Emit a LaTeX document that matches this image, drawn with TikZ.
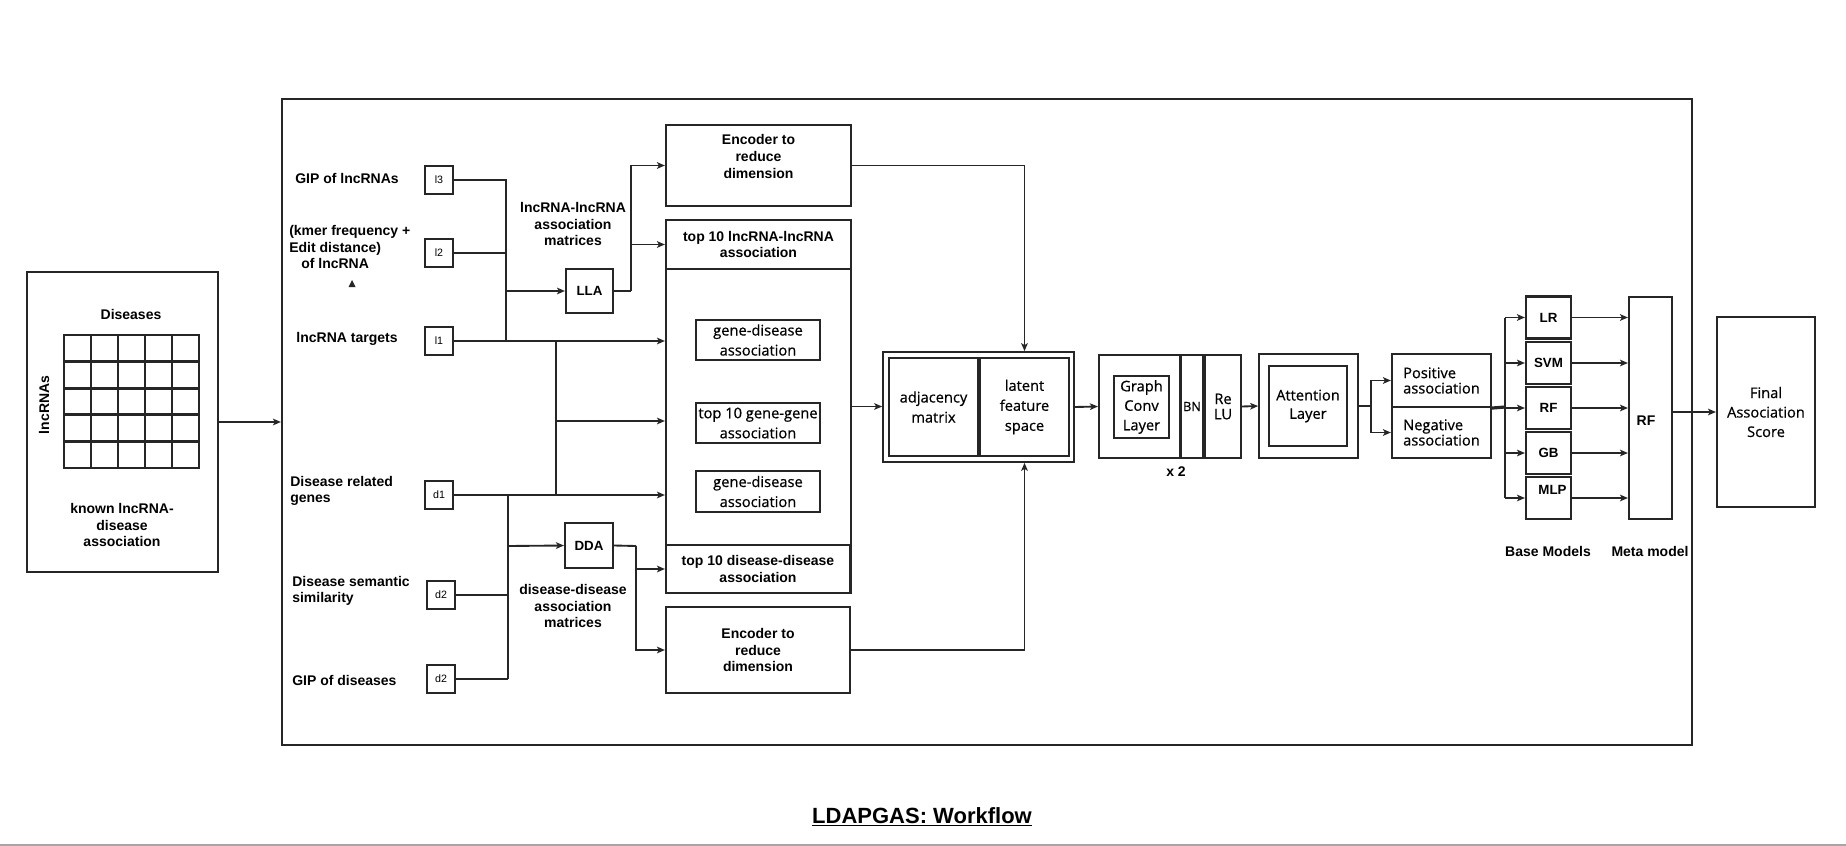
\documentclass[tikz,border=0pt]{standalone}
\usepackage{fontspec}
\setmainfont{Liberation Sans}
\newfontfamily\osans[FakeBold=0.6]{Open Sans}
\usetikzlibrary{arrows.meta}
\definecolor{ink}{HTML}{262626}
\tikzset{
  sz/.style 2 args={minimum width=#1*0.75pt, minimum height=#2*0.75pt},
  box/.style={draw=ink, line width=1.6pt, inner sep=0pt, align=center, font=\bfseries\fontsize{10.5}{12.4}\selectfont},
  obox/.style={box, font=\osans\fontsize{11}{15}\selectfont},
  sbox/.style={box, sz={28}{28}, line width=1.5pt, font=\fontsize{8}{9}\selectfont},
  lbl/.style={inner sep=0pt, align=center, font=\bfseries\fontsize{10.5}{12.4}\selectfont},
  conn/.style={draw=ink, line width=1.4pt},
  arr/.style={conn, -{Stealth[length=6pt,width=5pt,inset=1.5pt]}},
}
\begin{document}
\begin{tikzpicture}[x=0.75pt,y=0.75pt,yscale=-1]
\useasboundingbox (0,0) rectangle (1846,846);
%Shape: Rectangle [known associations]
\node[box,sz={191}{300}] (known) at (122.5,422) {};
\draw[ink,line width=2.2pt] (64,335) rectangle (199,468);
\foreach \i in {1,...,4} \draw[ink,line width=2pt] (64+27*\i,335) -- (64+27*\i,468);
\foreach \j in {1,...,4} \draw[ink,line width=2pt] (64,335+26.6*\j) -- (199,335+26.6*\j);
% Text Node
\node[lbl] (dis) at (131,314) {Diseases};
\node[lbl,rotate=90] (lnc) at (44,405) {lncRNAs};
\node[lbl] (knowntxt) at (122,525) {known lncRNA-\\disease\\association};
%Shape: Rectangle [main frame]
\node[box,sz={1410}{646}] (main) at (987,422) {};
\draw[arr] (known.east) -- (main.west);
% Text Node
\node[lbl] (gipl) at (347,178) {GIP of lncRNAs};
\node[lbl,align=left,anchor=west] (kmer) at (289,247) {(kmer frequency +\\Edit distance)\\\hspace*{9pt}of lncRNA};
\fill[ink] (348.5,287) -- (355.5,287) -- (352,280) -- cycle;
\node[lbl] (tgt) at (347,339) {lncRNA targets};
\node[lbl,align=left,anchor=west] (drg) at (290,491) {Disease related\\genes};
\node[lbl,align=left,anchor=west] (dss) at (292,591) {Disease semantic\\similarity};
\node[lbl,anchor=west] (gipd) at (292,680) {GIP of diseases};
\node[lbl] (llm) at (573,224) {lncRNA-lncRNA\\association\\matrices};
\node[lbl] (ddm) at (573,606) {disease-disease\\association\\matrices};
%Shape: Rectangle [inputs]
\node[sbox] (l3) at (439,180) {l3};
\node[sbox] (l2) at (439,253) {l2};
\node[sbox] (l1) at (439,341) {l1};
\node[sbox] (d1) at (439,495) {d1};
\node[sbox] (d2a) at (441,595) {d2};
\node[sbox] (d2b) at (441,679) {d2};
\node[box,sz={47}{44},font=\bfseries\fontsize{10}{12}\selectfont] (lla) at (589.5,291) {LLA};
\node[box,sz={48}{45},font=\bfseries\fontsize{10}{12}\selectfont] (dda) at (589,545.5) {DDA};
%Shape: Rectangle [matrices column]
\node[box,sz={185}{81}] (enc1) at (758.5,165.5) {};
\node[lbl] (enc1txt) at (758.5,156.5) {Encoder to\\reduce\\dimension};
\node[box,sz={185}{373}] (col) at (758.5,406.5) {};
\node[box,sz={185}{49}] (llt) at (758.5,244.5) {top 10 lncRNA-lncRNA\\association};
\node[obox,sz={124}{40}] (gd1) at (758,340) {gene-disease\\association};
\node[obox,sz={124}{40}] (gg) at (758,423) {top 10 gene-gene\\association};
\node[obox,sz={124}{41}] (gd2) at (758,491.5) {gene-disease\\association};
\node[box,sz={184}{48}] (ddt) at (758,569) {top 10 disease-disease\\association};
\node[box,sz={184}{86}] (enc2) at (758,650) {Encoder to\\reduce\\dimension};
%Shape: Rectangle [graph]
\node[box,sz={191}{110},line width=1.3pt] (graph) at (978.5,407) {};
\node[obox,sz={89}{98},line width=1.9pt] (adj) at (933.5,407) {adjacency\\matrix};
\node[obox,sz={89}{98},line width=1.9pt] (lat) at (1024.5,407) {latent\\feature\\space};
%Shape: Rectangle [gcn block]
\node[box,sz={81}{103}] (gcn) at (1139.5,406.5) {};
\node[obox,sz={55}{62},font=\osans\fontsize{11}{14.6}\selectfont] (gconv) at (1141.5,407) {Graph\\Conv\\Layer};
\node[obox,sz={22}{103},font=\osans\fontsize{9.5}{11}\selectfont] (bn) at (1192,406.5) {BN};
\node[obox,sz={36}{103},font=\osans\fontsize{11}{11.5}\selectfont] (relu) at (1223,406.5) {Re\\LU};
\node[lbl] (x2) at (1176,472) {x 2};
%Shape: Rectangle [attention]
\node[box,sz={99}{104},line width=1.3pt] (attn) at (1308.5,406) {};
\node[obox,sz={78}{80},font=\osans\fontsize{11}{13.8}\selectfont] (attin) at (1308,406) {Attention\\Layer};
\node[obox,sz={99}{53},align=left,font=\osans\fontsize{11}{11.5}\selectfont] (pos) at (1441.5,380.5) {Positive\\association};
\node[obox,sz={99}{51},align=left,font=\osans\fontsize{11}{11.5}\selectfont] (neg) at (1441.5,432.5) {Negative\\association};
%Shape: Rectangle [models]
\foreach \nm/\txt/\yy in {lr/LR/317.5,svm/SVM/363,rf/RF/408,gb/GB/453}
  \node[box,sz={45}{42},font=\bfseries\fontsize{10}{12}\selectfont] (\nm) at (1548.5,\yy) {\txt};
\node[box,sz={45}{42},label={[lbl,font=\bfseries\fontsize{10}{12}\selectfont,xshift=3pt,yshift=6pt]center:MLP}] (mlp) at (1548.5,498) {};
\node[box,sz={43}{222}] (meta) at (1650.5,408) {};
\node[lbl] (metatxt) at (1646,421) {RF};
\node[obox,sz={98}{190},font=\osans\fontsize{11}{14.6}\selectfont] (final) at (1766,412) {Final\\Association\\Score};
\node[lbl] (basel) at (1548,551) {Base Models};
\node[lbl] (metal) at (1650,551) {Meta model};
% Connectors: lncRNA side
\coordinate (lbus) at (506,291);
\draw[conn] (l3.east) -| (lbus);
\draw[conn] (l2.east) -- (l2.east -| lbus);
\draw[conn] (l1.east) -| (lbus);
\draw[arr] (lbus) -- (lla.west);
\draw[arr] (l1.east) -- (l1.east -| col.west);
\coordinate (gbus) at (556,421);
\draw[conn] (l1.east -| gbus) -- (d1.east -| gbus);
\draw[arr] (gbus) -- (gbus -| col.west);
\coordinate (lout) at (631,291);
\draw[conn] (lla.east) -- (lout);
\draw[arr] (lout) |- (enc1.west);
\draw[arr] (lout |- llt.west) -- (llt.west);
% Connectors: disease side
\draw[arr] (d1.east) -- (d1.east -| col.west);
\coordinate (dbus) at (508,546);
\draw[conn] (d1.east -| dbus) -- (d2b.east -| dbus);
\draw[conn] (d2a.east) -- (d2a.east -| dbus);
\draw[conn] (d2b.east) -- (d2b.east -| dbus);
\draw[arr] (dbus) -- (dda.west);
\coordinate (dout) at (636,546);
\draw[conn] (dda.east) -- (dout);
\draw[arr] (dout) |- (enc2.west);
\draw[arr] (dout |- ddt.west) -- (ddt.west);
% Connectors: model
\draw[arr] (col.east) -- (col.east -| graph.west);
\draw[arr] (enc1.east) -| (lat.north |- graph.north);
\draw[arr] (enc2.east) -| (lat.south |- graph.south);
\draw[arr] (graph.east) -- (gcn.west);
\draw[arr] (relu.east) -- (attn.west);
\coordinate (split) at (1371,406);
\draw[conn] (attn.east) -- (split);
\draw[arr] (split) |- (pos.west);
\draw[arr] (split) |- (neg.west);
\coordinate (mbus) at (1505,407);
\draw[conn,line width=2.4pt] (pos.south east) -- (mbus);
\draw[conn] (mbus |- lr.west) -- (mbus |- mlp.west);
\foreach \nm in {lr,svm,rf,gb,mlp} {
  \draw[arr] (mbus |- \nm.west) -- (\nm.west);
  \draw[arr] (\nm.east) -- (\nm.east -| meta.west);
}
\draw[arr] (final.west -| meta.east) -- (final.west);
% Text Node
\node[anchor=base,inner sep=0pt,font=\bfseries\fontsize{16.5}{20}\selectfont] (title) at (922,823) {\underline{LDAPGAS: Workflow}};
\draw[gray!70,line width=1.5pt] (0,845) -- (1846,845);
\end{tikzpicture}
\end{document}
